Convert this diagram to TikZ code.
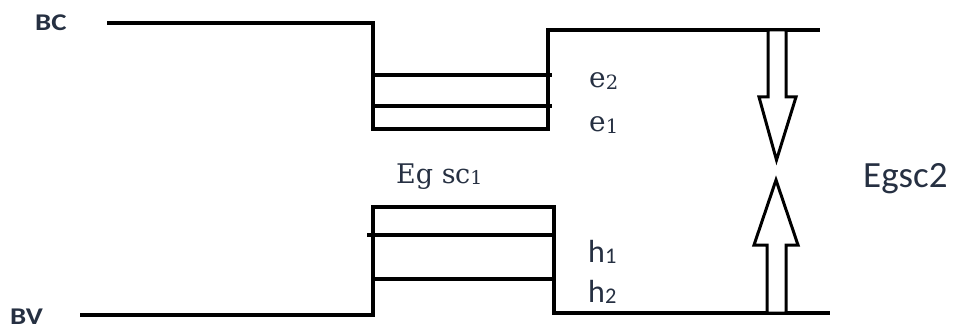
\documentclass[tikz,border=0pt]{standalone}
\usepackage{fontspec}
\setmainfont{Carlito}
\newfontfamily\serifx{DejaVu Serif}
\definecolor{txt}{RGB}{38,48,66}
\newcommand{\lowsub}[1]{\raisebox{-0.06em}{\scalebox{0.7}{#1}}}
\begin{document}
\begin{tikzpicture}[x=1pt,y=-1pt,
  band/.style={line width=3.8pt,line cap=butt,line join=miter},
  arrowbox/.style={line width=3pt,line join=miter,fill=white},
  lbl/.style={text=txt,inner sep=0pt,anchor=base west}]
\useasboundingbox (0,0) rectangle (955,331);
% conduction band
\draw[band] (107,23) -- (373,23) -- (373,129) -- (548,129) -- (548,30) -- (820,30);
\draw[band] (373,75) -- (552,75);
\draw[band] (373,106) -- (552,106);
% valence band
\draw[band] (80,315) -- (373,315) -- (373,207) -- (554,207) -- (554,313) -- (830,313);
\draw[band] (367,235) -- (554,235);
\draw[band] (373,279) -- (554,279);
% arrows
\draw[arrowbox] (768,30) -- (768,97) -- (759,97) -- (776.5,160) -- (796,97) -- (786,97) -- (786,30) -- cycle;
\draw[arrowbox] (767,313) -- (767,245) -- (754,245) -- (776,180) -- (798,245) -- (786,245) -- (786,313) -- cycle;
% labels
\node[lbl,font=\fontsize{24}{24}\selectfont\bfseries] (bc) at (35,31) {\scalebox{1.2}[1]{BC}};
\node[lbl,font=\fontsize{24}{24}\selectfont\bfseries] (bv) at (10,324) {\scalebox{1.2}[1]{BV}};
\node[lbl,font=\serifx\fontsize{28}{28}\selectfont] (e2) at (589,88) {e\lowsub{2}};
\node[lbl,font=\serifx\fontsize{28}{28}\selectfont] (e1) at (589,132) {e\lowsub{1}};
\node[lbl,font=\fontsize{32}{32}\selectfont] (h1) at (588,262) {h\lowsub{1}};
\node[lbl,font=\fontsize{32}{32}\selectfont] (h2) at (588,302) {h\lowsub{2}};
\node[lbl,font=\serifx\fontsize{27}{27}\selectfont] (eg1) at (396,183) {Eg s\kern-0.5pt c\lowsub{1}};
\node[lbl,font=\fontsize{37}{37}\selectfont] (eg2) at (863,188) {Egsc2};
\end{tikzpicture}
\end{document}
